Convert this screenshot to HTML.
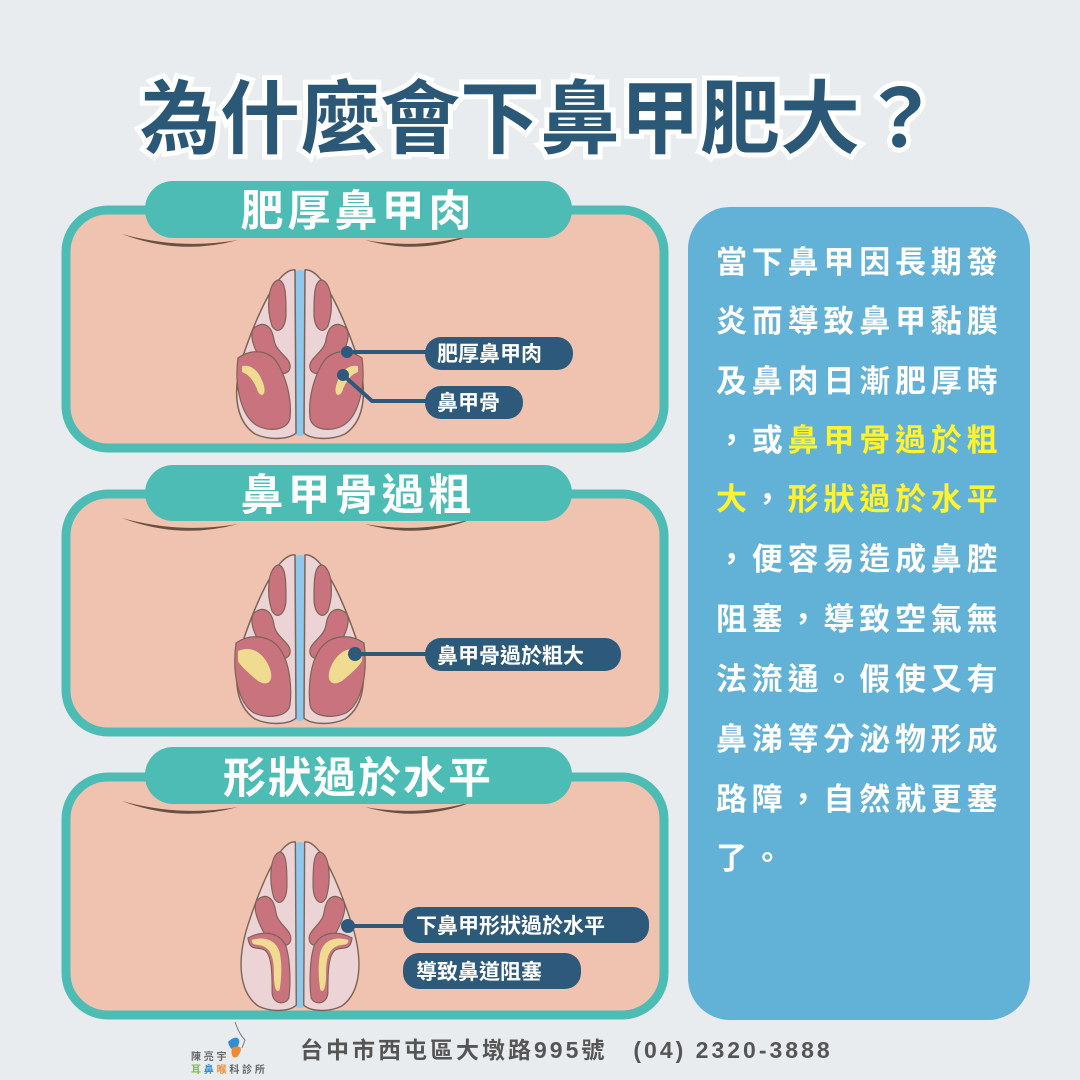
<!DOCTYPE html>
<html><head><meta charset="utf-8"><style>
html,body{margin:0;padding:0;background:#e9ecef}
svg{display:block}
text{font-family:"Liberation Sans","Noto Sans CJK TC",sans-serif;font-weight:bold}
</style></head><body>
<svg width="1080" height="1080" viewBox="0 0 1080 1080" xmlns="http://www.w3.org/2000/svg">
<defs>
<g id="half">
  <path d="M-5,2 C-22,0 -42,45 -56,85 C-68,120 -66,152 -45,166 C-30,173 -10,171 -4,165 Z" fill="#ecd3d6" stroke="#7d6355" stroke-width="1.5"/>
  <path d="M-22,12 C-32,15 -34,40 -28,58 C-22,68 -14,60 -14,45 C-14,30 -14,12 -22,12 Z" fill="#c9737f" stroke="#7d6355" stroke-width="1.2"/>
  <path d="M-46,60 C-36,52 -28,58 -26,72 C-24,85 -8,90 -10,100 C-12,110 -30,106 -38,94 C-44,84 -52,68 -46,60 Z" fill="#c9737f" stroke="#7d6355" stroke-width="1.2"/>
</g>
<g id="tlower">
  <path d="M-62,90 C-48,80 -30,82 -22,96 C-14,110 -8,130 -10,150 C-12,162 -30,164 -42,158 C-58,150 -66,120 -62,90 Z" fill="#c9737f" stroke="#7d6355" stroke-width="1.2"/>
  <path d="M-58,98 C-48,96 -40,104 -36,118 C-34,126 -38,130 -42,124 C-46,112 -52,106 -58,104 Z" fill="#f0dc90"/>
</g>
<g id="tbig">
  <path d="M-64,90 C-50,80 -30,82 -20,96 C-10,110 -8,135 -10,152 C-12,164 -32,166 -46,160 C-62,150 -68,120 -64,90 Z" fill="#c9737f" stroke="#7d6355" stroke-width="1.2"/>
  <path d="M-62,98 C-48,92 -36,100 -30,116 C-26,128 -32,134 -42,128 C-52,120 -60,112 -62,108 Z" fill="#f0dc90"/>
</g>
<g id="thoriz">
  <path d="M-56,98 C-40,90 -24,92 -16,104 C-10,118 -10,145 -12,158 C-16,166 -30,164 -30,152 C-30,135 -30,115 -38,110 C-46,106 -54,112 -56,98 Z" fill="#c9737f" stroke="#7d6355" stroke-width="1.2"/>
  <path d="M-52,100 C-38,96 -26,100 -22,112 C-19,124 -20,140 -22,150 C-26,154 -28,145 -28,135 C-28,120 -30,110 -40,106 C-46,104 -52,106 -52,100 Z" fill="#f0dc90"/>
</g>
</defs>

<text x="540" y="147" font-size="80" text-anchor="middle" fill="#2b5876" stroke="#ffffff" stroke-width="10" paint-order="stroke" letter-spacing="0">為什麼會下鼻甲肥大？</text>

<g>
<rect x="66" y="210" width="598" height="238" rx="42" fill="#f0c3b1" stroke="#4dbcb4" stroke-width="9"/>
<path d="M122,234 Q180,256 238,240 Q180,250 122,234Z" fill="#6a5040"/>
<path d="M365,240 Q420,256 475,234 Q420,250 365,240Z" fill="#6a5040"/>
<rect x="145" y="181" width="427" height="57" rx="28" fill="#4dbcb4"/>
<text x="358" y="226" font-size="43" text-anchor="middle" fill="#fff" letter-spacing="4">肥厚鼻甲肉</text>
</g>
<g>
<rect x="66" y="494" width="598" height="238" rx="42" fill="#f0c3b1" stroke="#4dbcb4" stroke-width="9"/>
<path d="M122,518 Q180,540 238,524 Q180,534 122,518Z" fill="#6a5040"/>
<path d="M365,524 Q420,540 475,518 Q420,534 365,524Z" fill="#6a5040"/>
<rect x="145" y="465" width="427" height="56" rx="28" fill="#4dbcb4"/>
<text x="358" y="510" font-size="43" text-anchor="middle" fill="#fff" letter-spacing="4">鼻甲骨過粗</text>
</g>
<g>
<rect x="66" y="777" width="598" height="238" rx="42" fill="#f0c3b1" stroke="#4dbcb4" stroke-width="9"/>
<path d="M122,801 Q180,823 238,807 Q180,817 122,801Z" fill="#6a5040"/>
<path d="M365,807 Q420,823 475,801 Q420,817 365,807Z" fill="#6a5040"/>
<rect x="145" y="747" width="427" height="57" rx="28" fill="#4dbcb4"/>
<text x="358" y="793" font-size="43" text-anchor="middle" fill="#fff" letter-spacing="2">形狀過於水平</text>
</g>

<g transform="translate(300,268)">
  <rect x="-7" y="2" width="14" height="166" rx="7" fill="#8ec8ec"/>
  <use href="#half"/><use href="#tlower"/>
  <g transform="scale(-1,1)"><use href="#half"/><use href="#tlower"/></g>
</g>
<g transform="translate(300,553)">
  <rect x="-7" y="2" width="14" height="166" rx="7" fill="#8ec8ec"/>
  <use href="#half"/><use href="#tbig"/>
  <g transform="scale(-1,1)"><use href="#half"/><use href="#tbig"/></g>
</g>
<g transform="translate(300,840) scale(0.93,1)">
  <rect x="-7" y="2" width="14" height="166" rx="7" fill="#8ec8ec"/>
  <use href="#half"/><use href="#thoriz"/>
  <g transform="scale(-1,1)"><use href="#half"/><use href="#thoriz"/></g>
</g>

<g fill="#2d5a7b" stroke="#2d5a7b">
<line x1="347" y1="352" x2="430" y2="352" stroke-width="4"/>
<circle cx="347" cy="352" r="6" stroke="none"/>
<polyline points="343,375 372,401 430,401" fill="none" stroke-width="4"/>
<circle cx="343" cy="375" r="6" stroke="none"/>
<rect x="425" y="337" width="148" height="33" rx="16" stroke="none"/>
<rect x="425" y="386" width="98" height="33" rx="16" stroke="none"/>
<line x1="355" y1="654" x2="430" y2="654" stroke-width="4"/>
<circle cx="355" cy="654" r="7" stroke="none"/>
<rect x="425" y="638" width="196" height="33" rx="16" stroke="none"/>
<line x1="348" y1="926" x2="410" y2="926" stroke-width="4"/>
<circle cx="348" cy="926" r="7" stroke="none"/>
<rect x="403" y="907" width="246" height="36" rx="16" stroke="none"/>
<rect x="403" y="953" width="178" height="36" rx="16" stroke="none"/>
</g>
<g fill="#fff" font-size="21">
<text x="437" y="361">肥厚鼻甲肉</text>
<text x="437" y="410">鼻甲骨</text>
<text x="437" y="663">鼻甲骨過於粗大</text>
<text x="416" y="933">下鼻甲形狀過於水平</text>
<text x="416" y="979">導致鼻道阻塞</text>
</g>

<rect x="688" y="207" width="342" height="813" rx="42" fill="#62b1d6"/>
<g font-size="31" fill="#fff" letter-spacing="4.8">
<text x="716" y="273">當下鼻甲因長期發</text>
<text x="716" y="332">炎而導致鼻甲黏膜</text>
<text x="716" y="392">及鼻肉日漸肥厚時</text>
<text x="716" y="451">，或<tspan fill="#fff22e">鼻甲骨過於粗</tspan></text>
<text x="716" y="510"><tspan fill="#fff22e">大</tspan>，<tspan fill="#fff22e">形狀過於水平</tspan></text>
<text x="716" y="570">，便容易造成鼻腔</text>
<text x="716" y="630">阻塞，導致空氣無</text>
<text x="716" y="690">法流通。假使又有</text>
<text x="716" y="750">鼻涕等分泌物形成</text>
<text x="716" y="810">路障，自然就更塞</text>
<text x="716" y="869">了。</text>
</g>

<path d="M235,1022 C238,1030 240,1035 245,1040 L242,1048" fill="none" stroke="#777" stroke-width="1"/>
<path d="M228,1042 C236,1034 242,1038 238,1046 C234,1052 230,1050 228,1042Z" fill="#2f8fd0"/>
<path d="M232,1048 C240,1044 244,1048 238,1056 C234,1060 230,1056 232,1048Z" fill="#f08a30"/>
<g font-size="10" font-family="Liberation Serif,Noto Serif CJK SC,serif">
<text x="191" y="1060" fill="#666" font-weight="normal">陳 亮 宇</text>
<text x="191" y="1073" fill="#666" font-weight="normal"><tspan fill="#7bbf3b">耳</tspan> <tspan fill="#2f8fd0">鼻</tspan> <tspan fill="#f08a30">喉</tspan> 科 診 所</text>
</g>
<text x="300" y="1058" font-size="23" fill="#555" letter-spacing="3">台中市西屯區大墩路995號　(04) 2320-3888</text>
</svg>
</body></html>
